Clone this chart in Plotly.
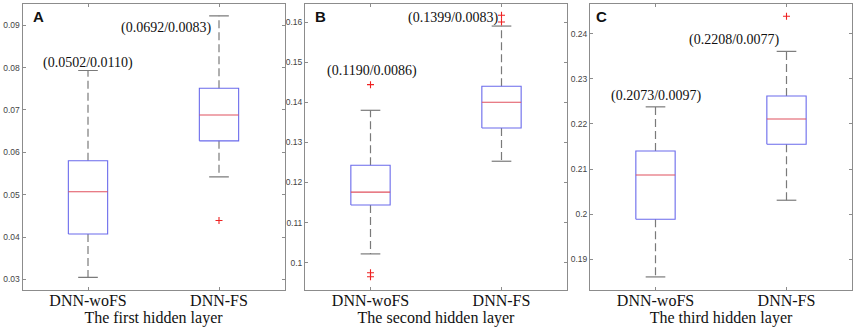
import plotly.graph_objects as go

# ---------------- data ----------------
categories = ["DNN-woFS", "DNN-FS"]
layer_titles = ["The first hidden layer", "The second hidden layer", "The third hidden layer"]
panel_letters = ["A", "B", "C"]

# box statistics per panel: [woFS, FS]
lower_whisker = [[0.0305, 0.0542], [0.1022, 0.1253], [0.1861, 0.2031]]
q1_values     = [[0.0407, 0.0627], [0.1144, 0.1336], [0.1989, 0.2155]]
median_values = [[0.0507, 0.0688], [0.1176, 0.1400], [0.2087, 0.2211]]
q3_values     = [[0.0580, 0.0751], [0.1243, 0.1440], [0.2140, 0.2262]]
upper_whisker = [[0.0793, 0.0922], [0.1380, 0.1590], [0.2238, 0.2361]]
outliers      = [[[], [0.0439]], [[0.1444, 0.0975, 0.0965], [0.1617, 0.1600]], [[], [0.2439]]]

mean_std_labels = [["(0.0502/0.0110)", "(0.0692/0.0083)"],
                   ["(0.1190/0.0086)", "(0.1399/0.0083)"],
                   ["(0.2073/0.0097)", "(0.2208/0.0077)"]]

tick_values = [[0.03, 0.04, 0.05, 0.06, 0.07, 0.08, 0.09],
               [0.10, 0.11, 0.12, 0.13, 0.14, 0.15, 0.16],
               [0.19, 0.20, 0.21, 0.22, 0.23, 0.24]]
tick_labels = [["0.03", "0.04", "0.05", "0.06", "0.07", "0.08", "0.09"],
               ["0.1", "0.11", "0.12", "0.13", "0.14", "0.15", "0.16"],
               ["0.19", "0.2", "0.21", "0.22", "0.23", "0.24"]]

# ---------------- layout / style ----------------
y_ranges = [[0.0275, 0.0950], [0.0932, 0.1645], [0.1832, 0.2466]]
x_domains = [[22.5 / 856, 284.5 / 856], [305 / 856, 567 / 856], [590 / 856, 852 / 856]]
y_domain = [(333 - 290) / 333, (333 - 4) / 333]
# label placements (x in category units, y in data units)
label_pos = [[(1.0, 0.0811), (1.60, 0.0893)],
             [(1.01, 0.1478), (1.63, 0.1609)],
             [(1.01, 0.2262), (1.60, 0.2386)]]
letter_pos = [0.06, 0.058, 0.043]

BOX_HALF = 0.15
CAP_HALF = 0.075
BOX_COLOR = "#6a6aec"
MED_COLOR = "#e0505e"
WHISK_COLOR = "#7a7a7a"
FRAME_COLOR = "#8c8c8c"
SERIF = "Liberation Serif, Times New Roman, serif"
SANS = "Liberation Sans, Arial, sans-serif"

fig = go.Figure()
annotations = []

for p in range(3):
    xa = "x" if p == 0 else f"x{p + 1}"
    ya = "y" if p == 0 else f"y{p + 1}"
    for c in range(2):
        pos = c + 1
        lw, q1, md, q3, uw = (lower_whisker[p][c], q1_values[p][c], median_values[p][c],
                              q3_values[p][c], upper_whisker[p][c])
        # whiskers (dashed)
        fig.add_trace(go.Scatter(x=[pos, pos, None, pos, pos], y=[q3, uw, None, q1, lw],
                                 mode="lines", line=dict(color=WHISK_COLOR, width=1.2, dash="8px,4px"),
                                 xaxis=xa, yaxis=ya, showlegend=False, hoverinfo="skip"))
        # caps
        fig.add_trace(go.Scatter(x=[pos - CAP_HALF, pos + CAP_HALF, None, pos - CAP_HALF, pos + CAP_HALF],
                                 y=[uw, uw, None, lw, lw],
                                 mode="lines", line=dict(color=WHISK_COLOR, width=1.2),
                                 xaxis=xa, yaxis=ya, showlegend=False, hoverinfo="skip"))
        # box
        fig.add_trace(go.Scatter(x=[pos - BOX_HALF, pos + BOX_HALF, pos + BOX_HALF, pos - BOX_HALF, pos - BOX_HALF],
                                 y=[q1, q1, q3, q3, q1],
                                 mode="lines", line=dict(color=BOX_COLOR, width=1.1),
                                 xaxis=xa, yaxis=ya, showlegend=False, hoverinfo="skip"))
        # median
        fig.add_trace(go.Scatter(x=[pos - BOX_HALF, pos + BOX_HALF], y=[md, md],
                                 mode="lines", line=dict(color=MED_COLOR, width=1.1),
                                 xaxis=xa, yaxis=ya, showlegend=False, hoverinfo="skip"))
        # outliers
        if outliers[p][c]:
            fig.add_trace(go.Scatter(x=[pos] * len(outliers[p][c]), y=outliers[p][c], mode="markers",
                                     marker=dict(symbol="cross-thin", size=5,
                                                 line=dict(color="#ee2222", width=1.1)),
                                     xaxis=xa, yaxis=ya, showlegend=False, hoverinfo="skip"))
        # mean/std label
        lx, ly = label_pos[p][c]
        annotations.append(dict(x=lx, y=ly, xref=xa, yref=ya, text=mean_std_labels[p][c],
                                showarrow=False, font=dict(family=SERIF, size=14, color="#111111"),
                                xanchor="center", yanchor="middle"))
    annotations.append(dict(x=letter_pos[p], y=0.955, xref=f"{xa} domain", yref=f"{ya} domain",
                            text=f"<b>{panel_letters[p]}</b>", showarrow=False,
                            font=dict(family=SANS, size=15, color="#111111"),
                            xanchor="center", yanchor="middle"))

layout = dict(width=856, height=333, margin=dict(l=0, r=0, t=0, b=0),
              paper_bgcolor="white", plot_bgcolor="white", annotations=annotations)

for p in range(3):
    xkey = "xaxis" if p == 0 else f"xaxis{p + 1}"
    ykey = "yaxis" if p == 0 else f"yaxis{p + 1}"
    ya = "y" if p == 0 else f"y{p + 1}"
    xa = "x" if p == 0 else f"x{p + 1}"
    layout[xkey] = dict(domain=x_domains[p], anchor=ya, range=[0.5, 2.5],
                        tickvals=[1, 2], ticktext=categories, ticks="inside", ticklen=3,
                        tickcolor=FRAME_COLOR, showline=True, linecolor=FRAME_COLOR, linewidth=1,
                        mirror="ticks", showgrid=False, zeroline=False,
                        ticklabelstandoff=-4,
                        tickfont=dict(family=SERIF, size=16, color="#111111"),
                        title=dict(text=layer_titles[p], standoff=0,
                                   font=dict(family=SERIF, size=16, color="#111111")),
                        automargin=False, fixedrange=True)
    layout[ykey] = dict(domain=y_domain, anchor=xa, range=y_ranges[p],
                        tickvals=tick_values[p], ticktext=tick_labels[p], ticks="inside", ticklen=3,
                        tickcolor=FRAME_COLOR, showline=True, linecolor=FRAME_COLOR, linewidth=1,
                        mirror="ticks", showgrid=False, zeroline=False,
                        tickfont=dict(family=SANS, size=8.5, color="#444444"),
                        automargin=False, fixedrange=True)

fig.update_layout(**layout)
fig.write_html("out.html", config={"displayModeBar": False},
               post_script="document.body.style.margin='0px';")
